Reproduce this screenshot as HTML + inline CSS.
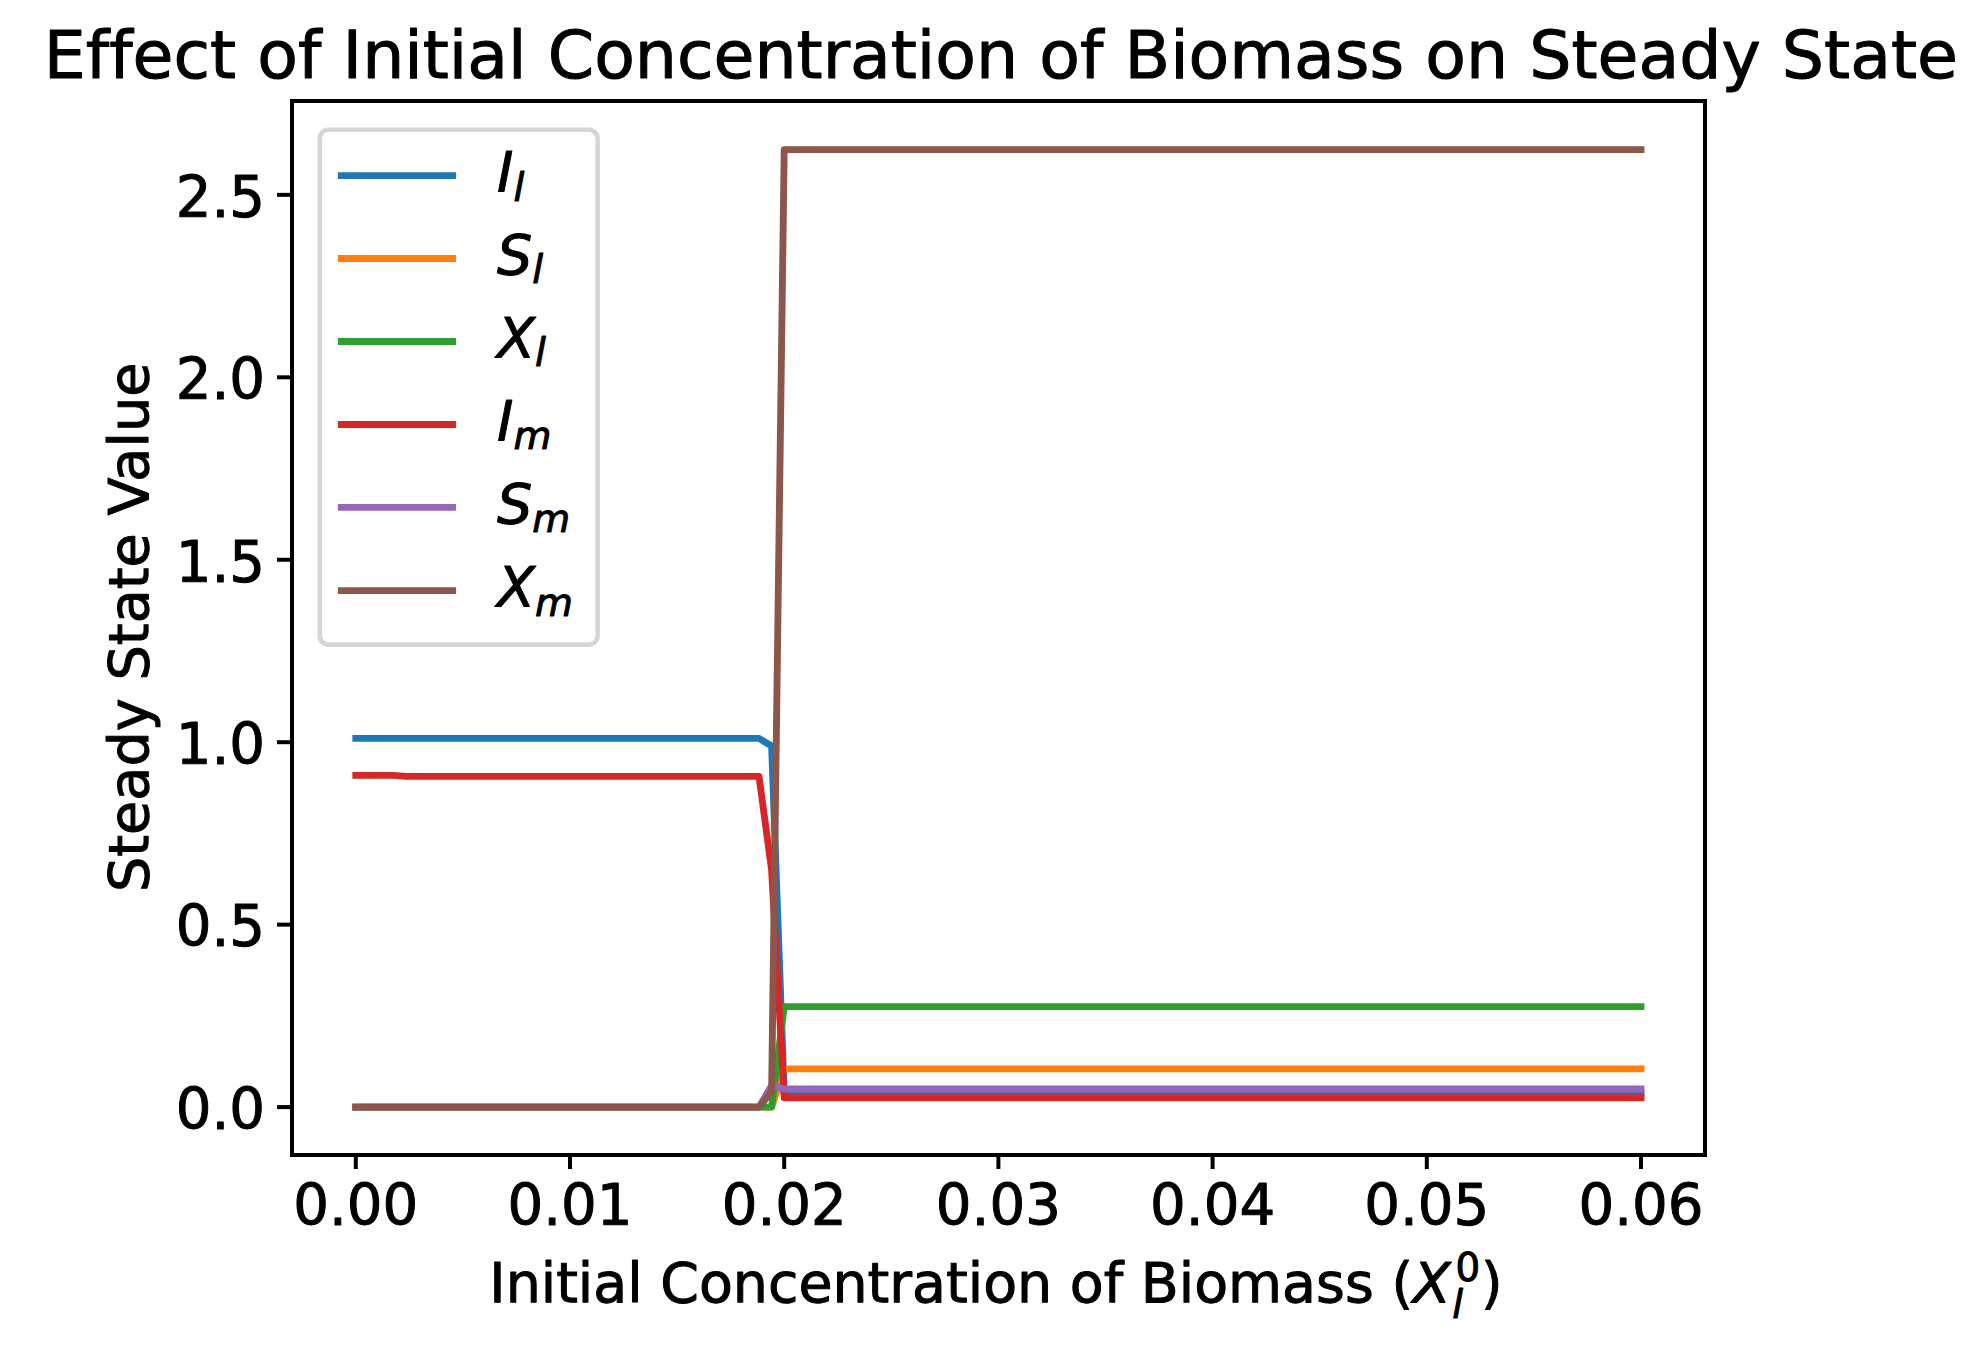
<!DOCTYPE html>
<html lang="en"><head><meta charset="utf-8"><title>Effect of Initial Concentration of Biomass on Steady State</title>
<style>html,body{margin:0;padding:0;background:#fff}svg{display:block}text{font-family:"DejaVu Sans","Liberation Sans",sans-serif;fill:#000;stroke:#000;stroke-width:1px;stroke-linejoin:round;font-variant-ligatures:none;font-feature-settings:"liga" 0,"clig" 0;white-space:pre}.it{font-style:oblique}</style></head><body>
<svg width="1980" height="1367" viewBox="0 0 1980 1367">
<rect width="1980" height="1367" fill="#fff"/>
<g fill="none" stroke-width="6.87" stroke-linecap="square" stroke-linejoin="round">
<polyline stroke="#1f77b4" points="355.80,738.41 759.00,738.41 771.60,745.99 784.20,1093.60 1641.00,1093.60"/>
<polyline stroke="#ff7f0e" points="355.80,1107.10 771.60,1107.10 784.20,1068.89 1641.00,1068.89"/>
<polyline stroke="#2ca02c" points="355.80,1107.10 771.60,1107.10 784.20,1006.61 1641.00,1006.61"/>
<polyline stroke="#d62728" points="355.80,775.41 393.60,775.41 406.20,776.39 759.00,776.39 771.60,869.91 784.20,1097.69 1641.00,1097.69"/>
<polyline stroke="#9467bd" points="355.80,1107.10 759.00,1107.10 771.60,1085.39 784.20,1089.00 1641.00,1089.00"/>
<polyline stroke="#8c564b" points="355.80,1107.10 759.00,1107.10 771.60,1091.59 784.20,149.60 1641.00,149.60"/>
</g>
<rect x="292.00" y="101.00" width="1413.00" height="1054.00" fill="none" stroke="#000" stroke-width="4.00" stroke-linejoin="miter"/>
<g stroke="#000" stroke-width="4.00">
<line x1="355.80" y1="1155.00" x2="355.80" y2="1169.00"/>
<line x1="570.00" y1="1155.00" x2="570.00" y2="1169.00"/>
<line x1="784.20" y1="1155.00" x2="784.20" y2="1169.00"/>
<line x1="998.40" y1="1155.00" x2="998.40" y2="1169.00"/>
<line x1="1212.60" y1="1155.00" x2="1212.60" y2="1169.00"/>
<line x1="1426.80" y1="1155.00" x2="1426.80" y2="1169.00"/>
<line x1="1641.00" y1="1155.00" x2="1641.00" y2="1169.00"/>
<line x1="277.00" y1="1107.10" x2="292.00" y2="1107.10"/>
<line x1="277.00" y1="924.65" x2="292.00" y2="924.65"/>
<line x1="277.00" y1="742.20" x2="292.00" y2="742.20"/>
<line x1="277.00" y1="559.75" x2="292.00" y2="559.75"/>
<line x1="277.00" y1="377.30" x2="292.00" y2="377.30"/>
<line x1="277.00" y1="194.85" x2="292.00" y2="194.85"/>
</g>
<g font-size="56.20" text-anchor="middle">
<text x="355.80" y="1224.60">0.00</text>
<text x="570.00" y="1224.60">0.01</text>
<text x="784.20" y="1224.60">0.02</text>
<text x="998.40" y="1224.60">0.03</text>
<text x="1212.60" y="1224.60">0.04</text>
<text x="1426.80" y="1224.60">0.05</text>
<text x="1641.00" y="1224.60">0.06</text>
</g>
<g font-size="56.20" text-anchor="end">
<text x="265.00" y="1128.90">0.0</text>
<text x="265.00" y="946.45">0.5</text>
<text x="265.00" y="764.00">1.0</text>
<text x="265.00" y="581.55">1.5</text>
<text x="265.00" y="399.10">2.0</text>
<text x="265.00" y="216.65">2.5</text>
</g>
<text font-size="55.42" x="489.30" y="1301.60">Initial Concentration of Biomass (<tspan class="it" x="1412.70" y="1301.60">X</tspan><tspan class="it" font-size="38.79" x="1452.20" y="1317.70">l</tspan><tspan font-size="38.79" x="1455.60" y="1280.60">0</tspan><tspan x="1480.90" y="1301.60">)</tspan></text>
<text font-size="55.70" text-anchor="middle" transform="translate(148.00 627.30) rotate(-90)">Steady State Value</text>
<text font-size="66.52" text-anchor="middle" x="1000.85" y="78.00">Effect of Initial Concentration of Biomass on Steady State</text>
<rect x="319.80" y="129.80" width="277.80" height="514.80" rx="8.5" ry="8.5" fill="#fff" fill-opacity="0.8" stroke="#ccc" stroke-opacity="0.8" stroke-width="4.6"/>
<g fill="none" stroke-width="6.87" stroke-linecap="butt">
<line x1="337.9" y1="175.60" x2="456.1" y2="175.60" stroke="#1f77b4"/>
<line x1="337.9" y1="258.50" x2="456.1" y2="258.50" stroke="#ff7f0e"/>
<line x1="337.9" y1="341.50" x2="456.1" y2="341.50" stroke="#2ca02c"/>
<line x1="337.9" y1="424.50" x2="456.1" y2="424.50" stroke="#d62728"/>
<line x1="337.9" y1="507.40" x2="456.1" y2="507.40" stroke="#9467bd"/>
<line x1="337.9" y1="590.60" x2="456.1" y2="590.60" stroke="#8c564b"/>
</g>
<g font-size="55.60" class="it">
<text x="497.0" y="191.40">I<tspan font-size="38.92" dy="9.17">l</tspan></text>
<text x="497.0" y="274.30">S<tspan font-size="38.92" dy="9.17">l</tspan></text>
<text x="497.0" y="357.30">X<tspan font-size="38.92" dy="9.17">l</tspan></text>
<text x="497.0" y="440.30">I<tspan font-size="38.92" dy="9.17">m</tspan></text>
<text x="497.0" y="523.20">S<tspan font-size="38.92" dy="9.17">m</tspan></text>
<text x="497.0" y="606.40">X<tspan font-size="38.92" dy="9.17">m</tspan></text>
</g>
</svg></body></html>
